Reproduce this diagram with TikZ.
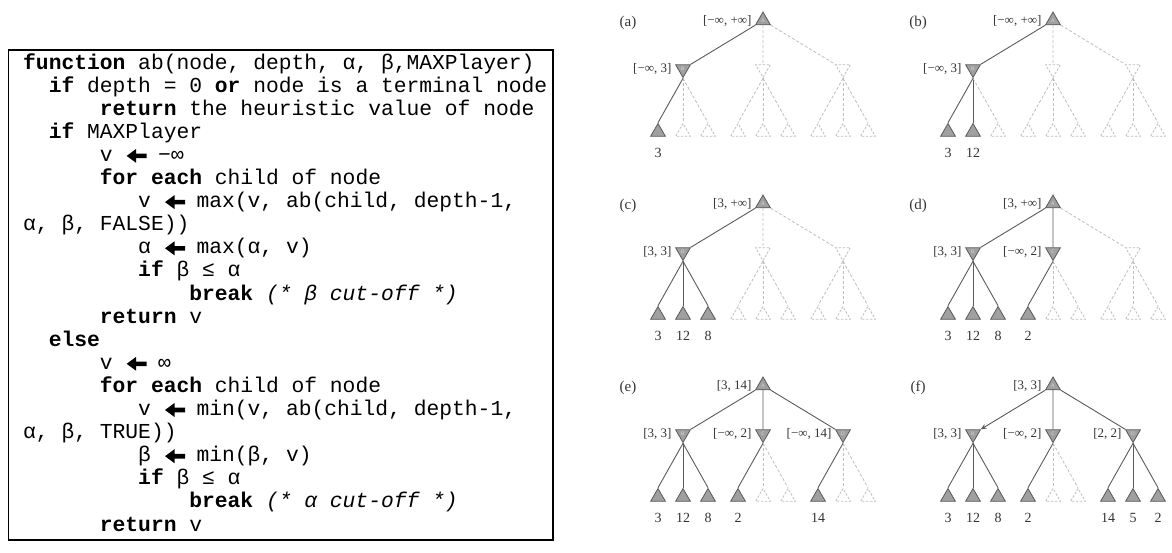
\documentclass[tikz,border=0pt]{standalone}
\usepackage{fontspec}
\setmainfont{Liberation Serif}
\setmonofont{Liberation Mono}
\usetikzlibrary{shapes.geometric,arrows.meta}
\definecolor{edgec}{HTML}{5A5A5A}
\definecolor{dashc}{HTML}{BDBDBD}
\definecolor{nodef}{HTML}{A0A0A0}
\definecolor{labc}{HTML}{333333}
\newcommand\kw[1]{\textbf{#1}}
\newcommand\cm[1]{\textit{#1}}
\newcommand\gap{\hspace*{20pt}}
% thick left arrow drawn after a code line node (#1), starting #2 pt from its left end
\newcommand\arrw[2]{\fill[shift={(#1.base west)}] (#2,-5.5) -- (#2+9.5,-12.5) -- (#2+9.5,-7.8) -- (#2+20,-7.8)
  -- (#2+20,-3.2) -- (#2+9.5,-3.2) -- (#2+9.5,1.5) -- cycle;}
\tikzset{
  code/.style={anchor=base west, inner sep=0pt, font=\ttfamily\fontsize{21.3}{24}\selectfont},
  tri/.style={regular polygon, regular polygon sides=3, minimum size=17pt, inner sep=0pt,
    line width=0.8pt, font=\sffamily\fontsize{5}{5}\selectfont, text=gray!30},
  mx/.style={tri, draw=edgec, fill=nodef},
  mn/.style={tri, shape border rotate=180, draw=edgec, fill=nodef},
  mnu/.style={tri, shape border rotate=180, draw=dashc, dash pattern=on 2.5pt off 1.5pt},
  lf/.style={tri, draw=edgec, fill=nodef},
  lfu/.style={tri, draw=dashc, dash pattern=on 2.5pt off 1.5pt},
  ex/.style={draw=edgec, line width=0.9pt},
  un/.style={draw=dashc, line width=0.8pt, dash pattern=on 3pt off 2pt},
  lab/.style={font=\fontsize{13}{13}\selectfont, text=labc, inner sep=1pt},
  val/.style={font=\fontsize{14}{14}\selectfont, text=labc, inner sep=1pt},
  plab/.style={font=\fontsize{15}{15}\selectfont, text=labc, inner sep=0pt},
  MN/.style={mn, label={[lab,label distance=5pt]left:{#1}}},
  MX/.style={label={[lab,label distance=5pt]left:{#1}}},
  LF/.style={lf, label={[val,label distance=10pt]below:#1}},
}
\newcommand\abtree[4]{%
\begin{scope}[shift={(#2,#3)},
  /utils/exec={\def\lB{}\def\lC{}\def\lD{}},
  tA/.style={}, tB/.style={mnu}, tC/.style={mnu}, tD/.style={mnu},
  eB/.style={un}, eC/.style={un}, eD/.style={un},
  t1/.style={lfu}, t2/.style={lfu}, t3/.style={lfu}, t4/.style={lfu}, t5/.style={lfu},
  t6/.style={lfu}, t7/.style={lfu}, t8/.style={lfu}, t9/.style={lfu},
  e1/.style={un}, e2/.style={un}, e3/.style={un}, e4/.style={un}, e5/.style={un},
  e6/.style={un}, e7/.style={un}, e8/.style={un}, e9/.style={un}, #4]
\node[plab] (#1lab) at (628,23) {(#1)};
\node[mx,tA] (#1A) at (763,20.5) {A};
\node[tB] (#1B) at (683,69) {\lB};
\node[tC] (#1C) at (763,69) {\lC};
\node[tD] (#1D) at (843,69) {\lD};
\node[t1] (#1L1) at (658,132) {};
\node[t2] (#1L2) at (683,132) {};
\node[t3] (#1L3) at (708,132) {};
\node[t4] (#1L4) at (738,132) {};
\node[t5] (#1L5) at (763,132) {};
\node[t6] (#1L6) at (788,132) {};
\node[t7] (#1L7) at (818,132) {};
\node[t8] (#1L8) at (843,132) {};
\node[t9] (#1L9) at (868,132) {};
\draw[eB] (#1A) -- (#1B);
\draw[eC] (#1A) -- (#1C);
\draw[eD] (#1A) -- (#1D);
\draw[e1] (#1B.corner 1) -- (#1L1.corner 1);
\draw[e2] (#1B.corner 1) -- (#1L2.corner 1);
\draw[e3] (#1B.corner 1) -- (#1L3.corner 1);
\draw[e4] (#1C.corner 1) -- (#1L4.corner 1);
\draw[e5] (#1C.corner 1) -- (#1L5.corner 1);
\draw[e6] (#1C.corner 1) -- (#1L6.corner 1);
\draw[e7] (#1D.corner 1) -- (#1L7.corner 1);
\draw[e8] (#1D.corner 1) -- (#1L8.corner 1);
\draw[e9] (#1D.corner 1) -- (#1L9.corner 1);
\end{scope}}
\begin{document}
\begin{tikzpicture}[x=1pt,y=-1pt]
\useasboundingbox (0,0) rectangle (1172,552);
% pseudocode
\draw[line width=1.4pt] (8.5,50) rectangle (553,540);
\node[code] (c1) at (23,69) {\kw{function} ab(node, depth, α, β,MAXPlayer)};
\node[code] (c2) at (48.56,92.1) {\kw{if} depth = 0 \kw{or} node is a terminal node};
\node[code] (c3) at (99.68,115.2) {\kw{return} the heuristic value of node};
\node[code] (c4) at (48.56,138.3) {\kw{if} MAXPlayer};
\node[code] (c5) at (99.68,161.4) {v \gap{} −∞};
\node[code] (c6) at (99.68,184.5) {\kw{for each} child of node};
\node[code] (c7) at (138.02,207.6) {v \gap{} max(v, ab(child, depth-1,};
\node[code] (c8) at (23,230.7) {α, β, FALSE))};
\node[code] (c9) at (138.02,253.8) {α \gap{} max(α, v)};
\node[code] (c10) at (138.02,276.9) {\kw{if} β ≤ α};
\node[code] (c11) at (189.14,300) {\kw{break} \cm{(* β cut-off *)}};
\node[code] (c12) at (99.68,323.1) {\kw{return} v};
\node[code] (c13) at (48.56,346.2) {\kw{else}};
\node[code] (c14) at (99.68,369.3) {v \gap{} ∞};
\node[code] (c15) at (99.68,392.4) {\kw{for each} child of node};
\node[code] (c16) at (138.02,415.5) {v \gap{} min(v, ab(child, depth-1,};
\node[code] (c17) at (23,438.6) {α, β, TRUE))};
\node[code] (c18) at (138.02,461.7) {β \gap{} min(β, v)};
\node[code] (c19) at (138.02,484.8) {\kw{if} β ≤ α};
\node[code] (c20) at (189.14,507.9) {\kw{break} \cm{(* α cut-off *)}};
\node[code] (c21) at (99.68,531) {\kw{return} v};
\arrw{c5}{27}
\arrw{c7}{27}
\arrw{c9}{27}
\arrw{c14}{27}
\arrw{c16}{27}
\arrw{c18}{27}
% trees
\abtree{a}{0}{0}{tA/.style={MX={[−∞, +∞]}}, /utils/exec={\def\lB{B}},
  tB/.style={MN={[−∞, 3]}}, eB/.style={ex}, t1/.style={LF=3}, e1/.style={ex}}
\abtree{b}{290}{0}{tA/.style={MX={[−∞, +∞]}}, /utils/exec={\def\lB{B}},
  tB/.style={MN={[−∞, 3]}}, eB/.style={ex}, t1/.style={LF=3}, e1/.style={ex},
  t2/.style={LF=12}, e2/.style={ex}}
\abtree{c}{0}{183}{tA/.style={MX={[3, +∞]}}, /utils/exec={\def\lB{B}},
  tB/.style={MN={[3, 3]}}, eB/.style={ex}, t1/.style={LF=3}, e1/.style={ex},
  t2/.style={LF=12}, e2/.style={ex}, t3/.style={LF=8}, e3/.style={ex}}
\abtree{d}{290}{183}{tA/.style={MX={[3, +∞]}}, /utils/exec={\def\lB{B}\def\lC{C}},
  tB/.style={MN={[3, 3]}}, eB/.style={ex}, t1/.style={LF=3}, e1/.style={ex},
  t2/.style={LF=12}, e2/.style={ex}, t3/.style={LF=8}, e3/.style={ex},
  tC/.style={MN={[−∞, 2]}}, eC/.style={ex}, t4/.style={LF=2}, e4/.style={ex}}
\abtree{e}{0}{365}{tA/.style={MX={[3, 14]}}, /utils/exec={\def\lB{B}\def\lC{C}\def\lD{D}},
  tB/.style={MN={[3, 3]}}, eB/.style={ex}, t1/.style={LF=3}, e1/.style={ex},
  t2/.style={LF=12}, e2/.style={ex}, t3/.style={LF=8}, e3/.style={ex},
  tC/.style={MN={[−∞, 2]}}, eC/.style={ex}, t4/.style={LF=2}, e4/.style={ex},
  tD/.style={MN={[−∞, 14]}}, eD/.style={ex}, t7/.style={LF=14}, e7/.style={ex}}
\abtree{f}{290}{365}{tA/.style={MX={[3, 3]}}, /utils/exec={\def\lB{B}\def\lC{C}\def\lD{D}},
  tB/.style={MN={[3, 3]}}, eB/.style={ex,-{Stealth[length=6pt,width=5pt]}},
  t1/.style={LF=3}, e1/.style={ex},
  t2/.style={LF=12}, e2/.style={ex}, t3/.style={LF=8}, e3/.style={ex},
  tC/.style={MN={[−∞, 2]}}, eC/.style={ex}, t4/.style={LF=2}, e4/.style={ex},
  tD/.style={MN={[2, 2]}}, eD/.style={ex}, t7/.style={LF=14}, e7/.style={ex},
  t8/.style={LF=5}, e8/.style={ex}, t9/.style={LF=2}, e9/.style={ex}}
\end{tikzpicture}
\end{document}
